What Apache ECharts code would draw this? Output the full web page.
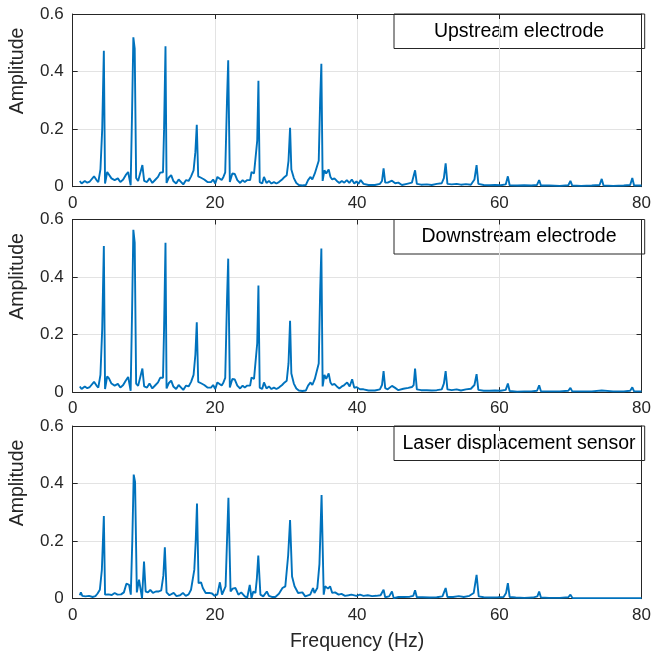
<!DOCTYPE html>
<html><head><meta charset="utf-8">
<script src="https://cdn.jsdelivr.net/npm/echarts@6/dist/echarts.min.js"></script>
<style>html,body{margin:0;padding:0;background:#fff}#c{width:654px;height:658px}</style>
</head><body><div id="c"></div>
<script>
const panelNames = ['Upstream electrode', 'Downstream electrode', 'Laser displacement sensor'];
const xTicks = [0, 20, 40, 60, 80];
const yTicks = [0, 0.2, 0.4, 0.6];
const xAxisTitle = 'Frequency (Hz)';
const yAxisTitle = 'Amplitude';

// [frequency (Hz), amplitude]
const upstream = [[1.0,0.02],[1.25,0.011],[1.7,0.02],[2.05,0.014],[2.4,0.018],[2.65,0.013],[3.0,0.036],[3.35,0.023],[3.6,0.016],[3.9,0.06],[4.15,0.2],[4.38,0.472],[4.55,0.011],[4.85,0.051],[5.1,0.046],[5.45,0.029],[5.9,0.023],[6.35,0.029],[6.7,0.016],[7.1,0.025],[7.45,0.04],[7.8,0.051],[8.15,0.005],[8.35,0.26],[8.53,0.519],[8.72,0.48],[8.92,0.03],[9.2,0.02],[9.45,0.02],[9.8,0.075],[10.05,0.02],[10.45,0.016],[10.8,0.029],[11.2,0.013],[11.65,0.025],[12.0,0.034],[12.3,0.049],[12.7,0.05],[12.85,0.2],[13.05,0.488],[13.2,0.013],[13.5,0.031],[13.85,0.04],[14.15,0.02],[14.55,0.011],[14.9,0.025],[15.25,0.016],[15.55,0.008],[15.95,0.023],[16.3,0.02],[16.65,0.036],[17.0,0.057],[17.25,0.12],[17.45,0.215],[17.65,0.036],[18.05,0.031],[18.5,0.025],[18.95,0.016],[19.45,0.016],[19.75,0.025],[20.05,0.011],[20.35,0.034],[20.6,0.04],[20.95,0.023],[21.2,0.034],[21.45,0.05],[21.7,0.3],[21.87,0.439],[22.1,0.016],[22.45,0.046],[22.8,0.044],[23.15,0.023],[23.55,0.013],[23.9,0.023],[24.2,0.016],[24.55,0.023],[24.95,0.023],[25.15,0.051],[25.5,0.046],[25.75,0.045],[25.95,0.16],[26.12,0.368],[26.3,0.016],[26.65,0.011],[26.9,0.034],[27.25,0.013],[27.6,0.02],[27.95,0.011],[28.3,0.016],[28.65,0.011],[29.0,0.016],[29.45,0.025],[29.8,0.034],[30.1,0.04],[30.35,0.09],[30.57,0.205],[30.75,0.06],[31.1,0.03],[31.45,0.013],[31.8,0.006],[32.3,0.004],[32.8,0.006],[33.1,0.023],[33.45,0.034],[33.7,0.025],[34.05,0.046],[34.3,0.05],[34.6,0.09],[34.8,0.3],[34.97,0.427],[35.15,0.02],[35.4,0.057],[35.65,0.046],[36.0,0.06],[36.25,0.034],[36.5,0.025],[36.8,0.029],[37.15,0.02],[37.5,0.013],[37.85,0.02],[38.2,0.014],[38.55,0.023],[38.9,0.013],[39.25,0.025],[39.6,0.011],[39.9,0.018],[40.2,0.01],[40.5,0.023],[40.9,0.01],[41.6,0.006],[42.5,0.006],[43.2,0.01],[43.5,0.02],[43.72,0.064],[43.95,0.014],[44.3,0.014],[44.9,0.021],[45.35,0.012],[45.8,0.014],[46.3,0.006],[47.0,0.01],[47.7,0.014],[47.95,0.02],[48.15,0.057],[48.4,0.01],[49.0,0.007],[49.8,0.008],[50.5,0.006],[51.2,0.01],[51.9,0.012],[52.2,0.03],[52.45,0.081],[52.7,0.01],[53.3,0.008],[54.0,0.01],[54.6,0.007],[55.3,0.009],[56.0,0.007],[56.5,0.025],[56.8,0.075],[57.05,0.01],[57.8,0.006],[58.6,0.005],[59.4,0.006],[60.2,0.005],[60.9,0.008],[61.2,0.036],[61.45,0.005],[62.5,0.004],[63.5,0.005],[64.5,0.004],[65.3,0.006],[65.6,0.023],[65.85,0.004],[67.0,0.004],[68.5,0.003],[69.7,0.005],[70.0,0.02],[70.25,0.004],[71.5,0.003],[73.0,0.004],[74.1,0.006],[74.4,0.027],[74.65,0.004],[76.0,0.003],[77.5,0.004],[78.4,0.006],[78.7,0.03],[78.95,0.004],[80.0,0.004]];

const downstream = [[1.0,0.02],[1.25,0.011],[1.7,0.02],[2.05,0.014],[2.4,0.018],[2.65,0.013],[3.0,0.036],[3.35,0.023],[3.6,0.016],[3.9,0.06],[4.15,0.22],[4.38,0.508],[4.55,0.011],[4.85,0.055],[5.1,0.048],[5.45,0.03],[5.9,0.023],[6.35,0.029],[6.7,0.016],[7.1,0.025],[7.45,0.04],[7.8,0.053],[8.15,0.005],[8.35,0.28],[8.53,0.564],[8.72,0.52],[8.92,0.03],[9.2,0.022],[9.45,0.02],[9.8,0.082],[10.05,0.02],[10.45,0.016],[10.8,0.03],[11.2,0.013],[11.65,0.025],[12.0,0.034],[12.3,0.05],[12.7,0.05],[12.85,0.22],[13.05,0.519],[13.2,0.013],[13.5,0.031],[13.85,0.04],[14.15,0.02],[14.55,0.011],[14.9,0.025],[15.25,0.016],[15.55,0.008],[15.95,0.023],[16.3,0.02],[16.65,0.036],[17.0,0.06],[17.25,0.13],[17.45,0.243],[17.65,0.036],[18.05,0.031],[18.5,0.025],[18.95,0.016],[19.45,0.016],[19.75,0.025],[20.05,0.011],[20.35,0.034],[20.6,0.04],[20.95,0.023],[21.2,0.034],[21.45,0.05],[21.7,0.32],[21.87,0.464],[22.1,0.016],[22.45,0.046],[22.8,0.044],[23.15,0.023],[23.55,0.013],[23.9,0.023],[24.2,0.016],[24.55,0.023],[24.95,0.023],[25.15,0.051],[25.5,0.046],[25.75,0.045],[25.95,0.17],[26.12,0.371],[26.3,0.016],[26.65,0.011],[26.9,0.034],[27.25,0.013],[27.6,0.02],[27.95,0.011],[28.3,0.016],[28.65,0.011],[29.0,0.016],[29.45,0.025],[29.8,0.034],[30.1,0.04],[30.35,0.1],[30.57,0.248],[30.75,0.065],[31.1,0.03],[31.45,0.013],[31.8,0.006],[32.3,0.004],[32.8,0.006],[33.1,0.023],[33.45,0.034],[33.7,0.025],[34.05,0.046],[34.3,0.05],[34.6,0.1],[34.8,0.35],[34.97,0.499],[35.15,0.02],[35.4,0.06],[35.65,0.046],[36.0,0.065],[36.25,0.034],[36.5,0.025],[36.8,0.029],[37.15,0.02],[37.5,0.013],[37.85,0.02],[38.15,0.024],[38.6,0.034],[38.95,0.02],[39.3,0.045],[39.6,0.015],[39.9,0.018],[40.1,0.024],[40.4,0.01],[40.9,0.01],[41.6,0.006],[42.5,0.006],[43.2,0.01],[43.5,0.025],[43.72,0.073],[43.95,0.014],[44.3,0.01],[44.9,0.022],[45.35,0.015],[45.8,0.007],[46.5,0.012],[47.2,0.015],[47.7,0.018],[47.95,0.025],[48.15,0.082],[48.4,0.01],[49.0,0.007],[49.8,0.007],[50.5,0.006],[51.2,0.007],[51.9,0.01],[52.2,0.03],[52.45,0.073],[52.7,0.01],[53.3,0.007],[54.0,0.01],[54.6,0.006],[55.3,0.01],[56.0,0.012],[56.5,0.025],[56.8,0.0625],[57.05,0.008],[57.8,0.005],[58.6,0.005],[59.4,0.006],[60.2,0.005],[60.9,0.008],[61.2,0.03],[61.45,0.004],[62.5,0.002],[63.5,0.003],[64.5,0.003],[65.3,0.005],[65.6,0.024],[65.85,0.003],[67.0,0.003],[68.5,0.003],[69.7,0.005],[70.0,0.015],[70.25,0.003],[71.5,0.003],[73.0,0.003],[74.4,0.006],[76.0,0.003],[77.5,0.003],[78.4,0.005],[78.7,0.017],[78.95,0.003],[80.0,0.003]];

const laser = [[1.0,0.012],[1.15,0.022],[1.35,0.01],[1.8,0.008],[2.3,0.01],[2.8,0.006],[3.2,0.009],[3.5,0.018],[3.82,0.031],[4.1,0.1],[4.38,0.287],[4.55,0.014],[5.0,0.015],[5.5,0.013],[5.9,0.02],[6.3,0.014],[6.8,0.015],[7.2,0.022],[7.55,0.052],[7.93,0.048],[8.17,0.014],[8.38,0.2],[8.58,0.431],[8.77,0.406],[9.02,0.022],[9.33,0.066],[9.56,0.063],[9.75,0.002],[10.03,0.129],[10.26,0.025],[10.59,0.022],[10.91,0.031],[11.28,0.02],[11.7,0.025],[12.1,0.025],[12.45,0.029],[12.75,0.08],[12.96,0.179],[13.2,0.022],[13.6,0.012],[14.2,0.02],[14.6,0.009],[15.1,0.012],[15.5,0.02],[15.9,0.01],[16.3,0.015],[16.64,0.031],[17.1,0.1],[17.3,0.2],[17.48,0.331],[17.7,0.054],[18.05,0.057],[18.3,0.037],[18.7,0.02],[19.2,0.02],[19.6,0.018],[19.95,0.01],[20.35,0.015],[20.7,0.057],[21.0,0.014],[21.5,0.043],[21.7,0.2],[21.9,0.351],[22.2,0.025],[22.5,0.035],[22.9,0.037],[23.3,0.014],[23.7,0.022],[24.2,0.008],[24.55,0.004],[24.9,0.048],[25.15,0.002],[25.4,0.025],[25.7,0.02],[25.9,0.07],[26.1,0.15],[26.4,0.014],[26.8,0.008],[27.3,0.025],[27.6,0.01],[28.0,0.006],[28.5,0.006],[29.0,0.017],[29.5,0.037],[29.9,0.043],[30.3,0.15],[30.57,0.273],[30.85,0.077],[31.2,0.043],[31.7,0.02],[32.3,0.022],[32.7,0.008],[33.4,0.014],[33.8,0.037],[34.0,0.02],[34.4,0.037],[34.7,0.12],[35.0,0.36],[35.3,0.014],[35.5,0.043],[35.9,0.035],[36.2,0.043],[36.5,0.02],[36.9,0.022],[37.4,0.014],[37.8,0.017],[38.3,0.01],[38.8,0.012],[39.2,0.014],[39.9,0.01],[40.4,0.014],[40.9,0.01],[41.5,0.012],[42.1,0.009],[42.7,0.01],[43.3,0.012],[43.72,0.031],[43.95,0.005],[44.5,0.008],[44.9,0.025],[45.15,0.002],[45.8,0.006],[46.6,0.006],[47.4,0.007],[47.9,0.01],[48.15,0.029],[48.4,0.005],[49.2,0.005],[50.2,0.004],[51.2,0.005],[52.0,0.008],[52.45,0.037],[52.7,0.006],[53.5,0.006],[54.3,0.009],[55.0,0.006],[55.8,0.01],[56.4,0.02],[56.8,0.083],[57.1,0.008],[57.8,0.005],[58.8,0.004],[59.8,0.005],[60.6,0.006],[60.95,0.02],[61.2,0.054],[61.45,0.006],[62.3,0.004],[63.5,0.003],[64.7,0.004],[65.35,0.008],[65.6,0.025],[65.85,0.004],[67.0,0.003],[68.5,0.003],[69.7,0.005],[70.0,0.014],[70.3,0.002],[72.0,0.002],[75.0,0.002],[78.0,0.002],[80.0,0.002]];

const seriesData = [upstream, downstream, laser];

const FONT = '"Liberation Sans", Arial, Helvetica, sans-serif';
const AXC = '#262626';
const gridLeft = 72.7, gridWidth = 572, gridHeight = 172.7;
const gridTops = [14, 219.5, 426];

const grids = [], xAxes = [], yAxes = [], series = [], graphics = [];
gridTops.forEach((top, i) => {
  grids.push({left: gridLeft, top: top, width: gridWidth, height: gridHeight, containLabel: false});
  const common = {gridIndex: i, type: 'value', min: xTicks[0], max: xTicks[xTicks.length-1], interval: xTicks[1]-xTicks[0]};
  xAxes.push(Object.assign({}, common, {
    position: 'bottom',
    axisLine: {show: true, onZero: false, lineStyle: {color: AXC, width: 1}},
    axisTick: {show: true, inside: true, length: 5, lineStyle: {color: AXC}},
    axisLabel: {show: true, color: AXC, fontSize: 17, fontFamily: FONT, margin: 8},
    splitLine: {show: true, lineStyle: {color: '#e3e3e3', width: 1}},
    name: i === 2 ? xAxisTitle : '', nameLocation: 'middle', nameGap: 33,
    nameTextStyle: {color: AXC, fontSize: 19.5, fontFamily: FONT}
  }));
  xAxes.push(Object.assign({}, common, {
    position: 'top',
    axisLine: {show: true, onZero: false, lineStyle: {color: AXC, width: 1}},
    axisTick: {show: true, inside: true, length: 5, lineStyle: {color: AXC}},
    axisLabel: {show: false}, splitLine: {show: false}
  }));
  const ycommon = {gridIndex: i, type: 'value', min: yTicks[0], max: yTicks[yTicks.length-1], interval: yTicks[1]-yTicks[0]};
  yAxes.push(Object.assign({}, ycommon, {
    position: 'left',
    axisLine: {show: true, onZero: false, lineStyle: {color: AXC, width: 1}},
    axisTick: {show: true, inside: true, length: 5, lineStyle: {color: AXC}},
    axisLabel: {show: true, color: AXC, fontSize: 17, fontFamily: FONT, margin: 9},
    splitLine: {show: true, lineStyle: {color: '#e3e3e3', width: 1}}
  }));
  yAxes.push(Object.assign({}, ycommon, {
    position: 'right',
    axisLine: {show: true, onZero: false, lineStyle: {color: AXC, width: 1}},
    axisTick: {show: true, inside: true, length: 5, lineStyle: {color: AXC}},
    axisLabel: {show: false}, splitLine: {show: false}
  }));
  series.push({
    type: 'line', xAxisIndex: 2*i, yAxisIndex: 2*i, data: seriesData[i],
    showSymbol: false, symbol: 'none', smooth: false, clip: true,
    lineStyle: {color: '#0072BD', width: 1.9}, silent: true, z: 3
  });
  graphics.push({
    type: 'group', z: 100,
    children: [
      {type: 'rect', shape: {x: 394, y: top, width: 250.7, height: 34.5},
       style: {fill: '#ffffff', stroke: AXC, lineWidth: 1}},
      {type: 'text', x: 519, y: top + 17.5,
       style: {text: panelNames[i], fill: '#000000', font: '19.5px ' + FONT, textAlign: 'center', textVerticalAlign: 'middle'}}
    ]
  });
  graphics.push({
    type: 'text', z: 100, x: 18, y: top + 57, rotation: Math.PI / 2,
    style: {text: yAxisTitle, fill: AXC, font: '19.5px ' + FONT, textAlign: 'center', textVerticalAlign: 'middle'}
  });
});

const chart = echarts.init(document.getElementById('c'), null, {renderer: 'canvas'});
chart.setOption({
  animation: false,
  backgroundColor: '#ffffff',
  grid: grids, xAxis: xAxes, yAxis: yAxes, series: series,
  graphic: graphics
});
</script>
</body></html>
